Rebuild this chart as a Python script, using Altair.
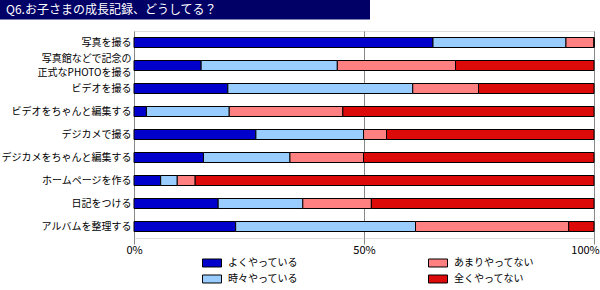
import altair as alt
import pandas as pd

title_text = "Q6.お子さまの成長記録、どうしてる？"
items = ["写真を撮る", "写真館などで記念の|正式なPHOTOを撮る", "ビデオを撮る",
         "ビデオをちゃんと編集する", "デジカメで撮る", "デジカメをちゃんと編集する",
         "ホームページを作る", "日記をつける", "アルバムを整理する"]
answers = ["よくやっている", "時々やっている", "あまりやってない", "全くやってない"]
often = [65.0, 14.6, 20.4, 2.7, 26.5, 15.1, 5.8, 18.3, 22.1]
sometimes = [28.9, 29.6, 40.2, 18.0, 23.4, 18.8, 3.6, 18.4, 39.1]
rarely = [6.1, 25.7, 14.3, 24.7, 5.0, 16.0, 3.9, 14.9, 33.3]
never = [0.0, 30.1, 25.1, 54.6, 45.1, 50.1, 86.7, 48.4, 5.5]
colors = ["#0000CC", "#99CCFF", "#FF8080", "#DD0A0A"]
ticks = [0, 50, 100]

FONT = "Noto Sans CJK JP"

rows = []
for series_idx, (ans, vals) in enumerate(zip(answers, [often, sometimes, rarely, never])):
    for item, v in zip(items, vals):
        rows.append({"item": item, "answer": ans, "value": v, "ord": series_idx})
df = pd.DataFrame(rows)

bars = alt.Chart(df).mark_bar(size=10, stroke="black", strokeWidth=1).encode(
    x=alt.X("value:Q", stack="zero",
            scale=alt.Scale(domain=[0, 100], nice=False),
            axis=alt.Axis(values=ticks, labelExpr="datum.value + '%'", title=None,
                          grid=True, gridColor="#888888", tickColor="#888888",
                          tickSize=6, domain=False, labelFontSize=11, labelFont=FONT,
                          labelColor="black", labelPadding=0, labelFlush=False,
                          labelOffset={"condition": {"test": "datum.value === 100", "value": -9}, "value": 0})),
    y=alt.Y("item:N", sort=items,
            scale=alt.Scale(paddingInner=0.5, paddingOuter=0.25),
            axis=alt.Axis(title=None, labelExpr="split(datum.label, '|')", ticks=False,
                          domain=False, labelFontSize=10, labelFont=FONT, labelColor="black",
                          labelPadding=3, labelLineHeight=14, labelLimit=200,
                          labelOffset={"condition": {"test": "indexof(datum.value, '|') >= 0", "value": -7}, "value": 0})),
    color=alt.Color("answer:N",
                    scale=alt.Scale(domain=answers, range=colors),
                    legend=alt.Legend(orient="none", legendX=68, legendY=222, columns=2,
                                      title=None, symbolType="M-1,-0.42H1V0.42H-1Z",
                                      symbolSize=361, symbolStrokeColor="black",
                                      symbolStrokeWidth=1, symbolOpacity=1,
                                      labelFontSize=10, labelFont=FONT, labelColor="black",
                                      labelOffset=6, columnPadding=128, rowPadding=-3,
                                      padding=0)),
    order=alt.Order("ord:Q", sort="ascending"),
)

title_df = pd.DataFrame({"t": [title_text]})
band = alt.Chart(title_df).mark_rect(color="#000066").encode(
    x=alt.value(-134), x2=alt.value(236), y=alt.value(-31), y2=alt.value(-11.5)
)
ttext = alt.Chart(title_df).mark_text(align="left", baseline="middle", color="white",
                                      fontSize=12, font=FONT).encode(
    x=alt.value(-128), y=alt.value(-21.5), text="t:N"
)

chart = alt.layer(band, ttext, bars).properties(
    width=460, height=207,
    autosize=alt.AutoSizeParams(type="none"),
    padding={"left": 134, "top": 31, "right": 6, "bottom": 52},
).configure_view(stroke="#888888", strokeWidth=1).configure(background="white")

chart.save("out.html", embed_options={"renderer": "svg", "actions": False})
